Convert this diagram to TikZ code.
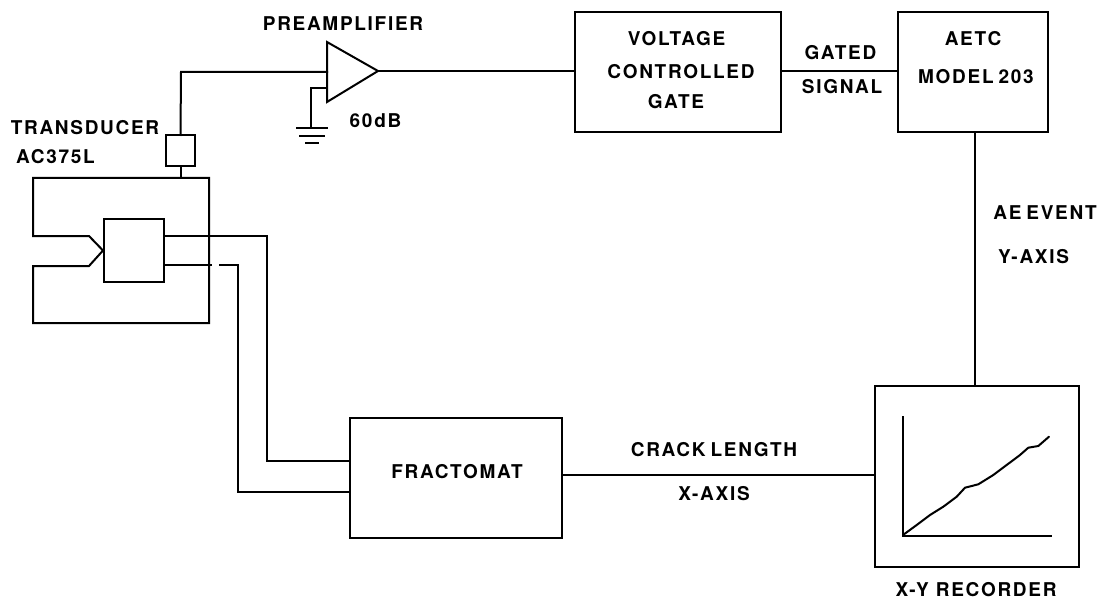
\documentclass[tikz,border=0pt]{standalone}
\usepackage{fontspec}
\setmainfont[LetterSpace=9]{TeX Gyre Heros}
\usetikzlibrary{calc}
\tikzset{
  ln/.style={line width=2pt,line join=miter,line cap=rect},
  blk/.style={draw,line width=2pt,inner sep=0pt,outer sep=0pt},
  lbl/.style={font=\fontsize{19}{21}\selectfont\bfseries,inner sep=0pt,anchor=center}
}
\begin{document}
\begin{tikzpicture}[x=1pt,y=-1pt]
\useasboundingbox (0,0) rectangle (1101,599);
% blocks
\node[blk,minimum width=29pt,minimum height=31pt] (tr) at (180.5,150.5) {};
\node[blk,minimum width=60pt,minimum height=63pt] (spec) at (134,250.5) {};
\node[blk,minimum width=206pt,minimum height=120pt] (vcg) at (678,72.5) {};
\node[blk,minimum width=150pt,minimum height=120pt] (aetc) at (973,72) {};
\node[blk,minimum width=212pt,minimum height=120pt] (fr) at (456,478) {};
\node[blk,minimum width=204pt,minimum height=181pt] (rec) at (977,476.5) {};
% frame coordinates
\coordinate (ftop) at (tr.south |- 0,178);
\coordinate (in1) at (327,72);
\coordinate (in2) at (327,88);
\coordinate (tip) at (378,71);
\coordinate (gnd) at (311,128);
\coordinate (a1) at (267,236);
\coordinate (a2) at (267,461);
\coordinate (b1) at (238,265);
\coordinate (b2) at (238,492);
% amplifier
\draw[ln] (327,42) -- (tip) -- (327,102) -- cycle;
% connectors
\draw[ln] (tr.north) -- (181,72) -- (in1);
\draw[ln] (tr.south) -- (ftop);
\draw[ln] (in2) -- (311,88) -- (gnd);
\draw[ln] (297,128) -- (327,128);
\draw[ln] (300,136) -- (324,136);
\draw[ln] (306,143.5) -- (318,143.5);
\draw[ln] (tip) -- (vcg.west |- tip);
\draw[ln] (vcg.east |- 0,71) -- (aetc.west |- 0,71);
\draw[ln] (974.5,132) -- (974.5,386);
\draw[ln] (fr.east |- 0,475) -- (rec.west |- 0,475);
% specimen frame
\draw[ln] (103,250.5) -- (89,236) -- (33,236) -- (33,178) -- (209,178) -- (209,323) -- (33,323) -- (33,266) -- (89,266) -- (103,250.5);
% leads
\draw[ln] (spec.east |- a1) -- (a1) -- (a2) -- (fr.west |- a2);
\draw[line width=2pt,dash pattern=on 48pt off 7pt on 2000pt] (spec.east |- b1) -- (b1) -- (b2) -- (fr.west |- b2);
% plot
\draw[ln] (903,417) -- (903,536) -- (1051,536);
\draw[line width=2pt,line join=round,line cap=round] (903,535) -- (916.7,525) -- (930,515) -- (943.3,506.7) -- (956.7,496.7) -- (965,487.7) -- (978.3,484.3) -- (993.3,475) -- (1020,455) -- (1028.3,447.7) -- (1038.3,446) -- (1049,436.7);
% labels
\node[lbl] (t1) at (343,24) {PREAMPLIFIER};
\node[lbl] (t2) at (375.5,121) {60dB};
\node[lbl] (t3) at (85,128) {TRANSDUCER};
\node[lbl] (t4) at (55.5,157) {AC375L};
\node[lbl] (t5) at (676.5,39) {VOLTAGE};
\node[lbl] (t6) at (681,72) {CONTROLLED};
\node[lbl] (t7) at (676,102) {GATE};
\node[lbl] (t8) at (840.5,53) {GATED};
\node[lbl] (t9) at (842,87) {SIGNAL};
\node[lbl] (t10) at (973,39) {AETC};
\node[lbl] (t11) at (976,77) {MODEL\kern5pt 203};
\node[lbl] (t12) at (1045,213) {AE\kern5pt EVENT};
\node[lbl] (t13) at (1033.5,257) {Y-AXIS};
\node[lbl] (t14) at (457,472) {FRACTOMAT};
\node[lbl] (t15) at (714,450) {CRACK\kern5pt LENGTH};
\node[lbl] (t16) at (714,494) {X-AXIS};
\node[lbl] (t17) at (976,590) {X-Y RECORDER};
\end{tikzpicture}
\end{document}
